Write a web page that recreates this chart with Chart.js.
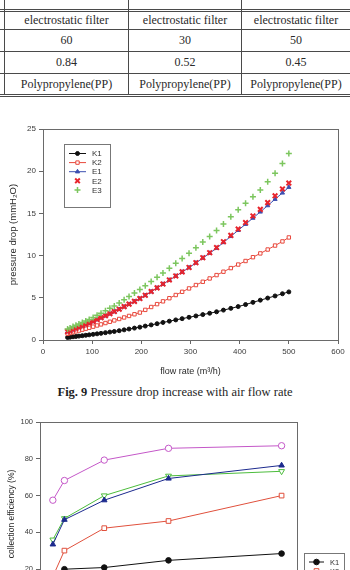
<!DOCTYPE html>
<html>
<head>
<meta charset="utf-8">
<script src="https://cdn.jsdelivr.net/npm/chart.js"></script>
<style>
  html, body { margin: 0; padding: 0; background: #fff; }
  body { width: 350px; height: 570px; overflow: hidden; position: relative; }
  .hl, .vl { position: absolute; background: #4a4a4a; }
  .cell { position: absolute; text-align: center; font-family: "Liberation Serif", serif; font-size: 12px; color: #2a2a2a; }
  #caption { position: absolute; left: 0; top: 385px; width: 350px; text-align: center;
    font-family: "Liberation Serif", serif; font-size: 12.5px; color: #1e1e1e; }
  canvas { position: absolute; left: 0; }
</style>
</head>
<body>
<div id="table"></div>
<canvas id="chart1" width="350" height="270" style="top:115px"></canvas>
<div id="caption"><b>Fig. 9</b> Pressure drop increase with air flow rate</div>
<canvas id="chart2" width="350" height="250" style="top:405px"></canvas>

<script>
// tabela (topo da página)
const tableRows = [
  ["electrostatic filter", "electrostatic filter", "electrostatic filter"],
  ["60", "30", "50"],
  ["0.84", "0.52", "0.45"],
  ["Polypropylene(PP)", "Polypropylene(PP)", "Polypropylene(PP)"],
];

// Fig. 9 - pressure drop x flow rate
const flowRate = [50, 55, 61, 67, 73, 80, 87, 94, 102, 110, 118, 127, 136, 145, 155, 165, 175, 186, 197, 208,
  220, 232, 244, 257, 270, 283, 297, 311, 325, 339, 353, 367, 382, 397, 412, 427, 442, 457, 472, 487, 500];
const dropK1 = [0.30, 0.33, 0.38, 0.42, 0.46, 0.51, 0.56, 0.61, 0.67, 0.73, 0.79, 0.87, 0.94, 1.01, 1.10, 1.20, 1.30, 1.41, 1.52, 1.65,
  1.79, 1.93, 2.08, 2.23, 2.38, 2.53, 2.69, 2.85, 3.01, 3.17, 3.34, 3.54, 3.75, 3.96, 4.20, 4.46, 4.72, 4.97, 5.22, 5.48, 5.70];
const dropK2 = [0.75, 0.83, 0.92, 1.02, 1.12, 1.23, 1.34, 1.45, 1.58, 1.72, 1.85, 2.01, 2.16, 2.32, 2.49, 2.67, 2.85, 3.05, 3.25, 3.57,
  3.91, 4.25, 4.58, 4.95, 5.33, 5.71, 6.11, 6.51, 6.90, 7.29, 7.69, 8.09, 8.52, 8.94, 9.36, 9.81, 10.26, 10.72, 11.19, 11.68, 12.15];
const dropE1 = [0.98, 1.08, 1.21, 1.35, 1.49, 1.66, 1.82, 1.99, 2.18, 2.40, 2.62, 2.86, 3.10, 3.35, 3.63, 3.93, 4.23, 4.56, 4.89, 5.28,
  5.72, 6.16, 6.61, 7.09, 7.57, 8.05, 8.57, 9.13, 9.71, 10.29, 10.88, 11.56, 12.28, 13.00, 13.72, 14.45, 15.18, 15.93, 16.68, 17.43, 18.10];
const dropE2 = [1.00, 1.11, 1.24, 1.38, 1.52, 1.69, 1.85, 2.01, 2.20, 2.42, 2.64, 2.88, 3.12, 3.37, 3.65, 3.95, 4.25, 4.58, 4.91, 5.30,
  5.74, 6.18, 6.63, 7.11, 7.59, 8.07, 8.59, 9.16, 9.75, 10.34, 10.95, 11.65, 12.40, 13.15, 13.92, 14.70, 15.48, 16.28, 17.09, 17.90, 18.60];
const dropE3 = [1.30, 1.43, 1.59, 1.74, 1.90, 2.08, 2.26, 2.44, 2.66, 2.92, 3.18, 3.46, 3.75, 4.04, 4.39, 4.77, 5.15, 5.57, 5.99, 6.44,
  6.94, 7.44, 7.95, 8.50, 9.08, 9.65, 10.27, 10.93, 11.60, 12.27, 12.97, 13.75, 14.60, 15.43, 16.20, 16.98, 17.78, 18.75, 19.75, 20.90, 22.10];
const flowTicks = [0, 100, 200, 300, 400, 500, 600];
const dropTicks = [0, 5, 10, 15, 20, 25];

// segundo gráfico - collection efficiency (cortado embaixo)
const effX = [0.5, 0.95, 2.5, 5.0, 9.4];
const effK1 = [15, 20.0, 20.9, 24.8, 28.5];
const effK2 = [16, 30.1, 42.3, 46.2, 60.0];
const effE1 = [33.5, 46.9, 57.5, 69.3, 76.4];
const effE2 = [36.0, 47.6, 60.0, 70.7, 73.2];
const effE3 = [57.5, 68.2, 79.3, 85.7, 87.1];
const effTicks = [0, 20, 40, 60, 80, 100];

const seriesNames = ["K1", "K2", "E1", "E2", "E3"];

// monta a tabela com linhas absolutas
function montarTabela() {
  const t = document.getElementById("table");
  const cols = [4, 128, 241, 350];
  const lines = [29, 51, 73];
  const rowsY = [11, 29, 51, 73, 94];
  const add = (cls, css) => {
    const d = document.createElement("div");
    d.className = cls;
    Object.assign(d.style, css);
    t.appendChild(d);
    return d;
  };
  [4, 128, 241].forEach((x) => add("vl", { left: x + "px", top: "0px", width: "1px", height: "95px" }));
  [9, 11, 94, 96].forEach((y) => add("hl", { left: "0px", top: y + "px", width: "350px", height: "1px" }));
  lines.forEach((y) => add("hl", { left: "0px", top: y + "px", width: "350px", height: "1px" }));
  tableRows.forEach((row, r) => {
    row.forEach((txt, c) => {
      const d = add("cell", {
        left: cols[c] + 1 + "px",
        width: cols[c + 1] - cols[c] - 1 + "px",
        top: rowsY[r] + 1 + "px",
        height: rowsY[r + 1] - rowsY[r] - 1 + "px",
        lineHeight: rowsY[r + 1] - rowsY[r] - 1 + "px",
      });
      d.textContent = txt;
    });
  });
}
montarTabela();

// moldura em volta da área do gráfico
const frame = {
  id: "frame",
  beforeDatasetsDraw(chart) {
    const a = chart.chartArea;
    const ctx = chart.ctx;
    ctx.save();
    ctx.strokeStyle = "#6a6a6a";
    ctx.lineWidth = 1;
    ctx.strokeRect(Math.round(a.left) + 0.5, Math.round(a.top) + 0.5, Math.round(a.right - a.left), Math.round(a.bottom - a.top));
    ctx.restore();
  },
};

// legenda em caixa, desenhada na posição pedida
const boxLegend = {
  id: "boxLegend",
  afterDraw(chart, args, o) {
    const ctx = chart.ctx;
    ctx.save();
    ctx.fillStyle = "#fff";
    ctx.fillRect(o.x, o.y, o.w, o.h);
    ctx.strokeStyle = "#777";
    ctx.lineWidth = 1;
    ctx.strokeRect(o.x + 0.5, o.y + 0.5, o.w, o.h);
    ctx.font = o.font;
    ctx.textBaseline = "middle";
    chart.data.datasets.forEach((ds, i) => {
      const y = o.y + o.first + i * o.step;
      const x0 = o.x + o.pad;
      if (ds.showLine !== false) {
        ctx.strokeStyle = ds.borderColor;
        ctx.lineWidth = 1;
        ctx.beginPath();
        ctx.moveTo(x0, y);
        ctx.lineTo(x0 + o.line, y);
        ctx.stroke();
      }
      ctx.fillStyle = ds.pointBackgroundColor;
      ctx.strokeStyle = ds.pointBorderColor;
      ctx.lineWidth = ds.pointBorderWidth;
      Chart.helpers.drawPoint(ctx, {
        pointStyle: ds.pointStyle,
        rotation: ds.pointRotation || 0,
        radius: ds.pointRadius,
        borderWidth: ds.pointBorderWidth,
      }, x0 + o.line / 2, y);
      ctx.fillStyle = "#333";
      ctx.fillText(ds.label, x0 + o.line + o.gap, y + 0.5);
    });
    ctx.restore();
  },
};

function serie(label, xs, ys, cor, estilo, extra) {
  return Object.assign({
    label: label,
    data: xs.map((x, i) => ({ x: x, y: ys[i] })),
    borderColor: cor,
    borderWidth: 1,
    pointStyle: estilo,
    pointBackgroundColor: cor,
    pointBorderColor: cor,
    pointBorderWidth: 1,
    pointRadius: 2,
    tension: 0,
    showLine: true,
  }, extra || {});
}

function eixo(min, max, ticks, fonte, titulo, tamanho, isX) {
  return {
    type: "linear",
    min: min,
    max: max,
    afterBuildTicks: (s) => { s.ticks = ticks.map((v) => ({ value: v })); },
    afterFit: (s) => { if (isX) s.height = tamanho; else s.width = tamanho; },
    grid: { display: true, drawOnChartArea: false, drawTicks: true, tickLength: 4, color: "#666" },
    border: { display: true, color: "#6a6a6a" },
    ticks: { font: { family: "Liberation Sans", size: fonte }, color: "#3a3a3a", padding: 3, maxRotation: 0 },
    title: titulo,
  };
}

Chart.defaults.font.family = "Liberation Sans";

new Chart(document.getElementById("chart1"), {
  type: "scatter",
  data: {
    datasets: [
      serie(seriesNames[0], flowRate, dropK1, "#111", "circle", { pointRadius: 2, order: 5 }),
      serie(seriesNames[1], flowRate, dropK2, "#e8483c", "rect", { pointRadius: 2.4, pointBackgroundColor: "#fff", order: 4 }),
      serie(seriesNames[2], flowRate, dropE1, "#3d4fb0", "triangle", { pointRadius: 2.4, order: 3 }),
      serie(seriesNames[3], flowRate, dropE2, "#e8242c", "crossRot", { pointRadius: 3.3, pointBorderWidth: 2, showLine: false, order: 2 }),
      serie(seriesNames[4], flowRate, dropE3, "#7cc65e", "cross", { pointRadius: 3, pointBorderWidth: 1.5, showLine: false, order: 1 }),
    ],
  },
  options: {
    responsive: false,
    animation: false,
    devicePixelRatio: 1,
    layout: { padding: { top: 14, right: 12, bottom: 5, left: 0 } },
    plugins: {
      legend: { display: false },
      tooltip: { enabled: false },
      boxLegend: { x: 64, y: 29, w: 46, h: 63, pad: 5, first: 9.5, step: 9.1, line: 17, gap: 6, font: "8px 'Liberation Sans'" },
    },
    scales: {
      x: eixo(0, 600, flowTicks, 8, {
        display: true, text: "flow rate (m³/h)", color: "#2a2a2a",
        font: { family: "Liberation Sans", size: 9 }, padding: { top: 0, bottom: 3 },
      }, 40, true),
      y: eixo(0, 25, dropTicks, 8, {
        display: true, text: "pressure drop (mmH₂O)", color: "#2a2a2a",
        font: { family: "Liberation Sans", size: 9.5 }, padding: { top: 8, bottom: 0 },
      }, 43, false),
    },
  },
  plugins: [frame, boxLegend],
});

new Chart(document.getElementById("chart2"), {
  type: "scatter",
  data: {
    datasets: [
      serie(seriesNames[0], effX, effK1, "#111", "circle", { pointRadius: 2.8 }),
      serie(seriesNames[1], effX, effK2, "#e0503c", "rect", { pointRadius: 3.3, pointBackgroundColor: "#fff" }),
      serie(seriesNames[2], effX, effE1, "#1c2a8e", "triangle", { pointRadius: 3.2 }),
      serie(seriesNames[3], effX, effE2, "#4cbc3c", "triangle", { pointRadius: 3.4, pointRotation: 180, pointBackgroundColor: "#fff" }),
      serie(seriesNames[4], effX, effE3, "#c457c8", "circle", { pointRadius: 3.2, pointBackgroundColor: "#fff" }),
    ],
  },
  options: {
    responsive: false,
    animation: false,
    devicePixelRatio: 1,
    layout: { padding: { top: 17, right: 53, bottom: 9, left: 0 } },
    plugins: {
      legend: { display: false },
      tooltip: { enabled: false },
      boxLegend: { x: 304, y: 148, w: 40, h: 50, pad: 5, first: 9, step: 9, line: 15, gap: 6, font: "7.5px 'Liberation Sans'" },
    },
    scales: {
      x: eixo(0, 10, [0, 2, 4, 6, 8, 10], 7.5, { display: false }, 40, true),
      y: eixo(0, 100, effTicks, 7.5, {
        display: true, text: "collection efficiency (%)", color: "#2a2a2a",
        font: { family: "Liberation Sans", size: 8.5 }, padding: { top: 7, bottom: 0 },
      }, 40, false),
    },
  },
  plugins: [frame, boxLegend],
});
</script>
</body>
</html>
